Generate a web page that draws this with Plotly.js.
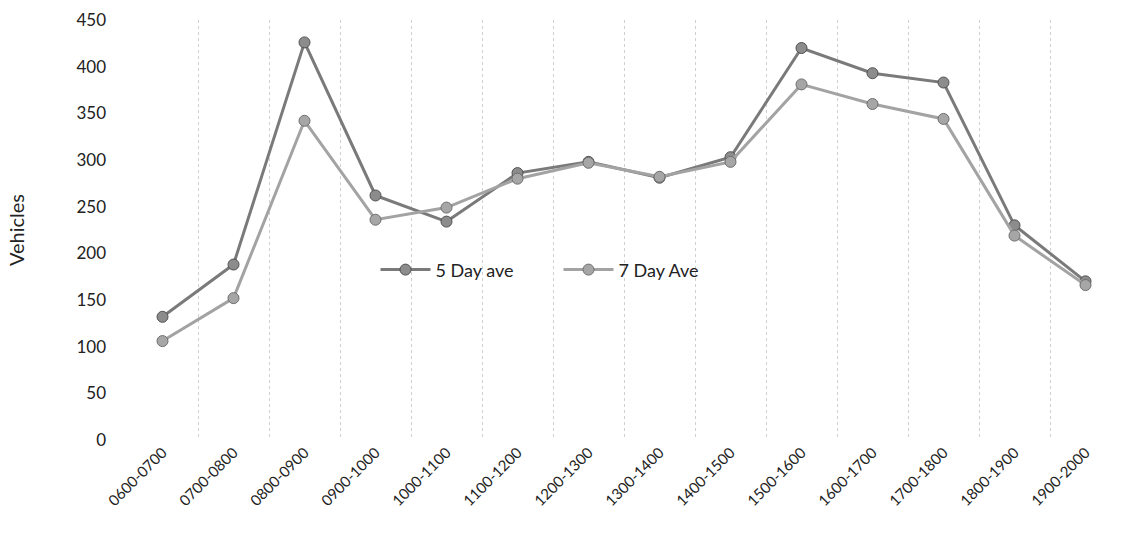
<!DOCTYPE html>
<html>
<head>
<meta charset="utf-8">
<script src="https://cdn.plot.ly/plotly-3.0.1.min.js"></script>
<style>html,body{margin:0;padding:0;background:#fff;}#chart{width:1121px;height:533px;}</style>
</head>
<body>
<div id="chart"></div>
<script>
const categories = ["0600-0700","0700-0800","0800-0900","0900-1000","1000-1100","1100-1200","1200-1300","1300-1400","1400-1500","1500-1600","1600-1700","1700-1800","1800-1900","1900-2000"];
const fiveDayAve = [132, 188, 426, 262, 234, 286, 298, 281, 303, 420, 393, 383, 230, 170];
const sevenDayAve = [106, 152, 342, 236, 249, 280, 297, 282, 298, 381, 360, 344, 219, 166];
const seriesNames = ["5 Day ave", "7 Day Ave"];
const yTicks = [0, 50, 100, 150, 200, 250, 300, 350, 400, 450];

const traces = [
  {
    x: categories, y: fiveDayAve, name: seriesNames[0], type: 'scatter', mode: 'lines+markers',
    line: {color: '#7a7a7a', width: 3},
    marker: {symbol: 'circle', size: 11, color: '#8c8c8c', line: {color: '#505050', width: 1}}
  },
  {
    x: categories, y: sevenDayAve, name: seriesNames[1], type: 'scatter', mode: 'lines+markers',
    line: {color: '#a3a3a3', width: 3},
    marker: {symbol: 'circle', size: 11, color: '#a6a6a6', line: {color: '#6e6e6e', width: 1}}
  }
];

const layout = {
  width: 1121, height: 533,
  margin: {l: 127, r: 0, t: 20, b: 93},
  paper_bgcolor: '#ffffff', plot_bgcolor: '#ffffff',
  font: {family: 'Lato, "Open Sans", sans-serif', color: '#222222'},
  showlegend: true,
  legend: {
    orientation: 'h', x: 0.25, y: 0.405, xanchor: 'left', yanchor: 'middle',
    font: {size: 18, color: '#222222'}, bgcolor: 'rgba(255,255,255,0)', traceorder: 'normal',
    itemwidth: 50, entrywidth: 118
  },
  xaxis: {
    type: 'category', range: [-0.5, 13.5], tickangle: -45, tickfont: {size: 15, color: '#222222'},
    showline: false, zeroline: false, ticks: '', automargin: false,
    showgrid: true, tickson: 'boundaries', gridcolor: '#d0d0d0', griddash: 'dot', gridwidth: 1
  },
  yaxis: {
    range: [0, 450], tickvals: yTicks, tickfont: {size: 17, color: '#222222'},
    showgrid: false, zeroline: false, showline: false, ticks: '', automargin: false,
    ticklabelstandoff: 20,
    title: {text: 'Vehicles', font: {size: 20, color: '#222222'}, standoff: 46}
  }
};

Plotly.newPlot('chart', traces, layout, {displayModeBar: false, staticPlot: true});
</script>
</body>
</html>
